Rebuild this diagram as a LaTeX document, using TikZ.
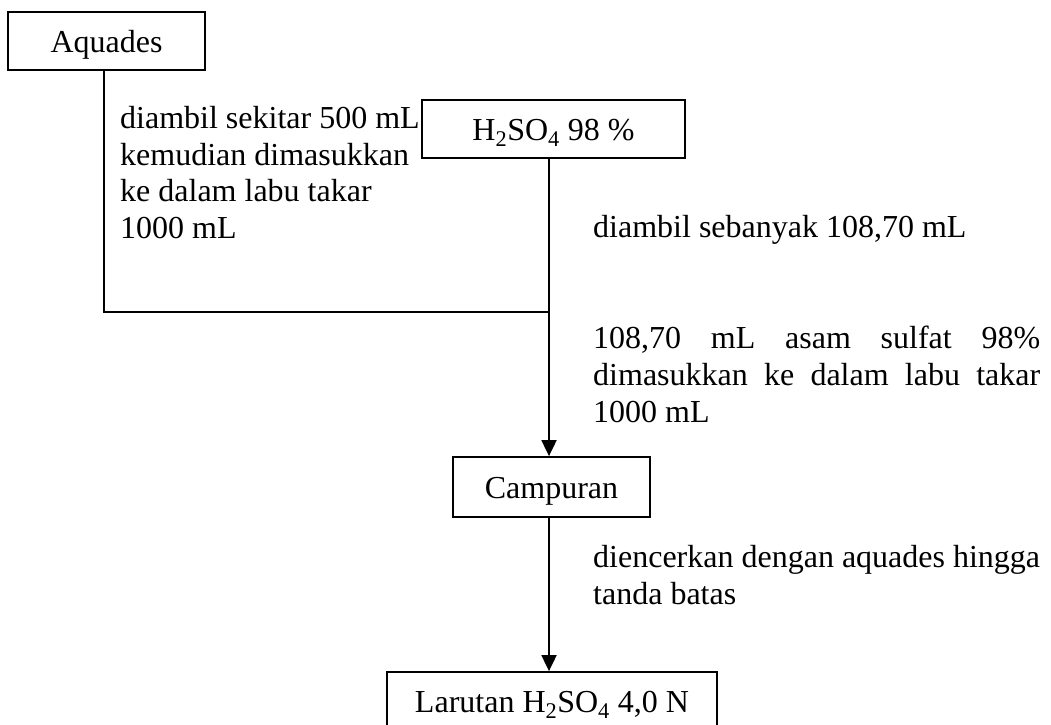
\documentclass[tikz,border=0pt]{standalone}
\usepackage{fontspec}
\setmainfont{Liberation Serif}
\usetikzlibrary{arrows.meta}

\begin{document}
\begin{tikzpicture}[x=1pt,y=-1pt,
  every node/.style={font=\fontsize{32}{36.7}\selectfont},
  box/.style={draw,line width=1.8pt,inner sep=0pt,text height=22pt,text depth=0pt},
  note/.style={anchor=north west,inner sep=0pt,align=left},
  link/.style={line width=1.9pt},
  flow/.style={link,-{Triangle[length=16pt,width=15pt]}}]
  \useasboundingbox (0,0) rectangle (1051,724);

  % boxes of the flow chart
  \node[box,minimum width=197pt,minimum height=58pt] (aq) at (106.5,41) {Aquades};
  \node[box,minimum width=263pt,minimum height=58pt] (acid) at (553.5,129) {H\textsubscript{2}SO\textsubscript{4} 98 \%};
  \node[box,minimum width=197pt,minimum height=60pt] (mix) at (551.5,487) {Campuran};
  \node[box,minimum width=330pt,minimum height=58pt] (sol) at (552,701) {Larutan H\textsubscript{2}SO\textsubscript{4} 4,0 N};

  % joints of the connectors
  \coordinate (jl) at (104,312);
  \coordinate (jr) at (549,312);

  % connectors
  \draw[link] (aq.south -| jl) -- (jl) -- (jr);
  \draw[flow] (acid.south -| jr) -- (mix.north -| jr);
  \draw[flow] (mix.south -| jr) -- (sol.north -| jr);

  % step descriptions
  \node[note] (t1) at (120,106) {diambil sekitar 500 mL\\kemudian dimasukkan\\ke dalam labu takar\\1000 mL};
  \node[note] (t2) at (593,215) {diambil sebanyak 108,70 mL};
  \node[note] (t3) at (593,326) {\makebox[447pt][s]{108,70 mL asam sulfat 98\%}\\\makebox[447pt][s]{dimasukkan ke dalam labu takar}\\1000 mL};
  \node[note] (t4) at (593,545) {diencerkan dengan aquades hingga\\tanda batas};
\end{tikzpicture}
\end{document}
